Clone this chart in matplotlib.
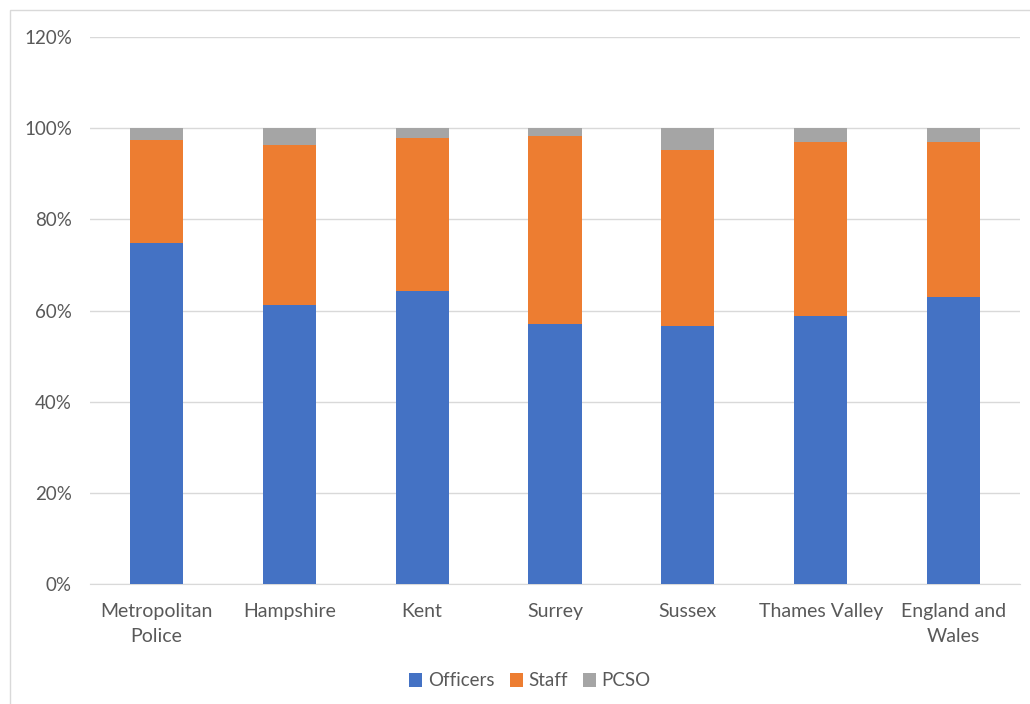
import matplotlib
matplotlib.use("Agg")
import matplotlib.pyplot as plt
from matplotlib.ticker import FuncFormatter
from matplotlib.patches import Rectangle
import numpy as np

categories = ["Metropolitan\nPolice", "Hampshire", "Kent", "Surrey", "Sussex", "Thames Valley", "England and\nWales"]
officers = [74.9, 61.1, 64.2, 57.0, 56.5, 58.7, 63.0]
staff = [22.5, 35.3, 33.6, 41.3, 38.8, 38.2, 33.9]
pcso = [2.6, 3.6, 2.2, 1.7, 4.7, 3.1, 3.1]

colors = ["#4472C4", "#ED7D31", "#A5A5A5"]
plt.rcParams['font.family'] = ['Lato', 'DejaVu Sans']

fig = plt.figure(figsize=(10.30, 7.04), dpi=100)
fig.patches.append(Rectangle((10/1030, -0.1), 1.2, 1 - 10/704 + 0.1, transform=fig.transFigure,
                             fill=False, edgecolor="#D9D9D9", linewidth=1, zorder=0))
ax = fig.add_axes([90/1030, 1 - 584/704, 930/1030, (584 - 37)/704])

x = np.arange(len(categories))
w = 0.4
ax.bar(x, officers, w, color=colors[0], label="Officers", zorder=3)
ax.bar(x, staff, w, bottom=officers, color=colors[1], label="Staff", zorder=3)
bottom2 = [o + s for o, s in zip(officers, staff)]
ax.bar(x, pcso, w, bottom=bottom2, color=colors[2], label="PCSO", zorder=3)

ax.set_xlim(-0.5, len(categories) - 0.5)
ax.set_ylim(0, 120)
ax.set_yticks(np.arange(0, 121, 20))
ax.yaxis.set_major_formatter(FuncFormatter(lambda v, p: f"{int(v)}%"))
ax.set_xticks(x)
ax.set_xticklabels(categories, linespacing=1.55)
ax.grid(axis="y", color="#D9D9D9", linewidth=1, zorder=0)
for s in ["top", "right", "left"]:
    ax.spines[s].set_visible(False)
ax.spines["bottom"].set_color("#D9D9D9")
ax.tick_params(axis="both", length=0, colors="#595959", labelsize=13.5)
ax.tick_params(axis="x", pad=14, labelsize=14)
ax.tick_params(axis="y", pad=13)

ax.legend(loc="center", bbox_to_anchor=(530/1030, 1 - 681/704), bbox_transform=fig.transFigure,
          ncol=3, frameon=False, fontsize=13.5, handlelength=0.7, handleheight=0.7,
          handletextpad=0.3, columnspacing=0.8, labelcolor="#595959")

fig.savefig("out.png", dpi=100)
